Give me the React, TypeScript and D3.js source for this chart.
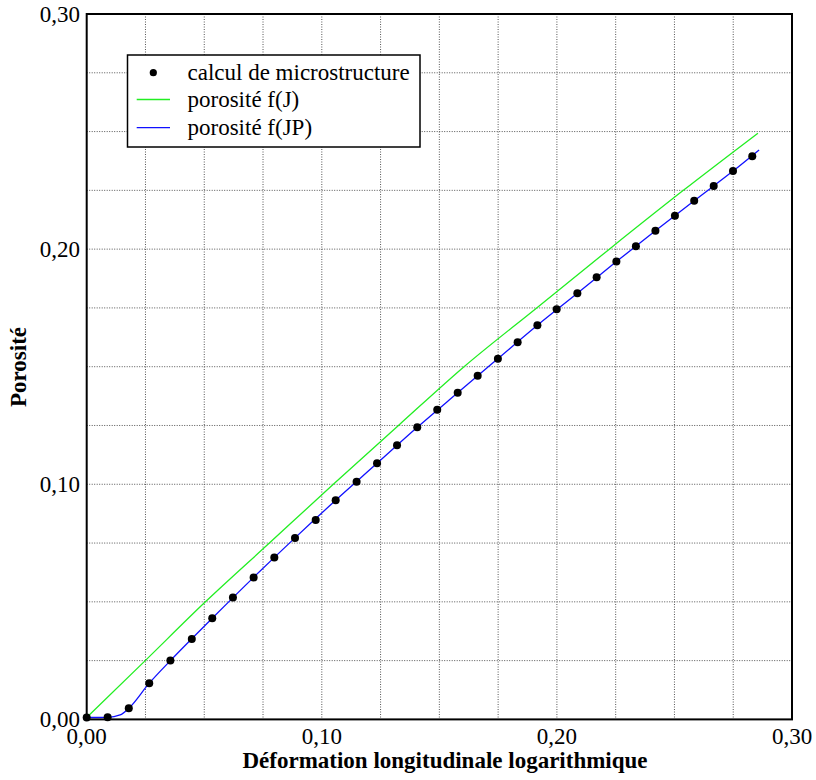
import React, { useEffect, useRef } from 'react';
import * as d3 from 'd3';

// calcul de microstructure (points)
const microX = [0, 0.0089, 0.0179, 0.0266, 0.0356, 0.0447, 0.0534, 0.0622, 0.071, 0.0798, 0.0886, 0.0974,
  0.1059, 0.1148, 0.1235, 0.132, 0.1406, 0.1491, 0.1578, 0.1663, 0.1749, 0.1833, 0.1917, 0.1999,
  0.2087, 0.2169, 0.2253, 0.2336, 0.2419, 0.2502, 0.2584, 0.2667, 0.2749, 0.2831];
const microY = [0.0008, 0.0009, 0.0047, 0.0154, 0.025, 0.0342, 0.043, 0.0518, 0.0604, 0.0689, 0.0772, 0.0848,
  0.0932, 0.1011, 0.1089, 0.1166, 0.1242, 0.1317, 0.1389, 0.1462, 0.1534, 0.1604, 0.1676, 0.1744,
  0.1812, 0.188, 0.1947, 0.2012, 0.2078, 0.2142, 0.2206, 0.2269, 0.2332, 0.2395];

// porosité f(J)
const fjX = [0, 0.0249, 0.0505, 0.0777, 0.1049, 0.1326, 0.1605, 0.1914, 0.2223, 0.2538, 0.2855];
const fjY = [0.0008, 0.025, 0.05, 0.075, 0.1, 0.125, 0.15, 0.175, 0.2, 0.225, 0.2493];

// porosité f(JP)
const fjpX = [0, 0.0089, 0.0142, 0.0179, 0.0266, 0.0356, 0.0534, 0.071, 0.0886, 0.1059, 0.1235, 0.1406,
  0.1578, 0.1749, 0.1917, 0.2087, 0.2253, 0.2419, 0.2584, 0.2749, 0.286];
const fjpY = [0.0008, 0.0009, 0.0019, 0.0047, 0.0154, 0.025, 0.043, 0.0604, 0.0772, 0.0932, 0.1089, 0.1242,
  0.1389, 0.1534, 0.1676, 0.1812, 0.1947, 0.2078, 0.2206, 0.2332, 0.2422];

const majorTicks = [0, 0.1, 0.2, 0.3];
const tickLabels = ['0,00', '0,10', '0,20', '0,30'];
const legendLabels = ['calcul de microstructure', 'porosité f(J)', 'porosité f(JP)'];

const App = () => {
  const svgRef = useRef<SVGSVGElement>(null);

  useEffect(() => {
    const svg = d3.select(svgRef.current);
    svg.selectAll('*').remove();

    const left = 86.7, right = 792, top = 14, bottom = 719.4;
    const font = '"Liberation Serif", "Times New Roman", serif';

    const x = d3.scaleLinear().domain([0, 0.3]).range([left, right]);
    const y = d3.scaleLinear().domain([0, 0.3]).range([bottom, top]);

    const grid = d3.range(1, 12).map(i => i * 0.025);

    const g = svg.append('g');

    // grid
    g.selectAll('.vg').data(grid).enter().append('line')
      .attr('x1', d => x(d)).attr('x2', d => x(d))
      .attr('y1', top).attr('y2', bottom)
      .attr('stroke', '#555').attr('stroke-width', 1).attr('stroke-dasharray', '1,1.5');
    g.selectAll('.hg').data(grid).enter().append('line')
      .attr('y1', d => y(d)).attr('y2', d => y(d))
      .attr('x1', left).attr('x2', right)
      .attr('stroke', '#555').attr('stroke-width', 1).attr('stroke-dasharray', '1,1.5');

    const line = d3.line<[number, number]>()
      .x(d => x(d[0])).y(d => y(d[1]))
      .curve(d3.curveMonotoneX);

    g.append('path')
      .attr('d', line(fjX.map((v, i) => [v, fjY[i]] as [number, number])))
      .attr('fill', 'none').attr('stroke', '#22ee22').attr('stroke-width', 1.3);

    g.append('path')
      .attr('d', line(fjpX.map((v, i) => [v, fjpY[i]] as [number, number])))
      .attr('fill', 'none').attr('stroke', '#1010ff').attr('stroke-width', 1.3);

    g.selectAll('.dot').data(microX).enter().append('circle')
      .attr('cx', d => x(d)).attr('cy', (d, i) => y(microY[i]))
      .attr('r', 4).attr('fill', '#000');

    // frame
    g.append('rect')
      .attr('x', left).attr('y', top)
      .attr('width', right - left).attr('height', bottom - top)
      .attr('fill', 'none').attr('stroke', '#000').attr('stroke-width', 2);

    // tick labels
    g.selectAll('.yl').data(majorTicks).enter().append('text')
      .attr('x', 80).attr('y', d => y(d) + 7.5)
      .attr('text-anchor', 'end')
      .attr('font-family', font).attr('font-size', 23)
      .text((d, i) => tickLabels[i]);
    g.selectAll('.xl').data(majorTicks).enter().append('text')
      .attr('x', d => x(d)).attr('y', 744)
      .attr('text-anchor', 'middle')
      .attr('font-family', font).attr('font-size', 23)
      .text((d, i) => tickLabels[i]);

    // axis titles
    g.append('text')
      .attr('x', 445).attr('y', 768)
      .attr('text-anchor', 'middle')
      .attr('font-family', font).attr('font-size', 23).attr('font-weight', 'bold')
      .text('Déformation longitudinale logarithmique');
    g.append('text')
      .attr('transform', 'translate(26,367) rotate(-90)')
      .attr('text-anchor', 'middle')
      .attr('font-family', font).attr('font-size', 23).attr('font-weight', 'bold')
      .text('Porosité');

    // legend
    const lg = g.append('g');
    lg.append('rect')
      .attr('x', 127.5).attr('y', 55).attr('width', 292.5).attr('height', 92)
      .attr('fill', '#fff').attr('stroke', '#000').attr('stroke-width', 1.5);
    const rows = [72.7, 99.5, 127.7];
    lg.append('circle').attr('cx', 153.3).attr('cy', rows[0]).attr('r', 3.6).attr('fill', '#000');
    lg.append('line').attr('x1', 136.7).attr('x2', 170).attr('y1', rows[1]).attr('y2', rows[1])
      .attr('stroke', '#22ee22').attr('stroke-width', 1.3);
    lg.append('line').attr('x1', 136.7).attr('x2', 170).attr('y1', rows[2]).attr('y2', rows[2])
      .attr('stroke', '#1010ff').attr('stroke-width', 1.3);
    lg.selectAll('.lt').data(legendLabels).enter().append('text')
      .attr('x', 187.5).attr('y', (d, i) => rows[i] + 7.5)
      .attr('font-family', font).attr('font-size', 23)
      .text(d => d);
  }, []);

  return (
    <svg ref={svgRef} width="816" height="780"
      style={{ position: 'absolute', left: 0, top: 0, background: '#fff' }}></svg>
  );
};

export default App;
